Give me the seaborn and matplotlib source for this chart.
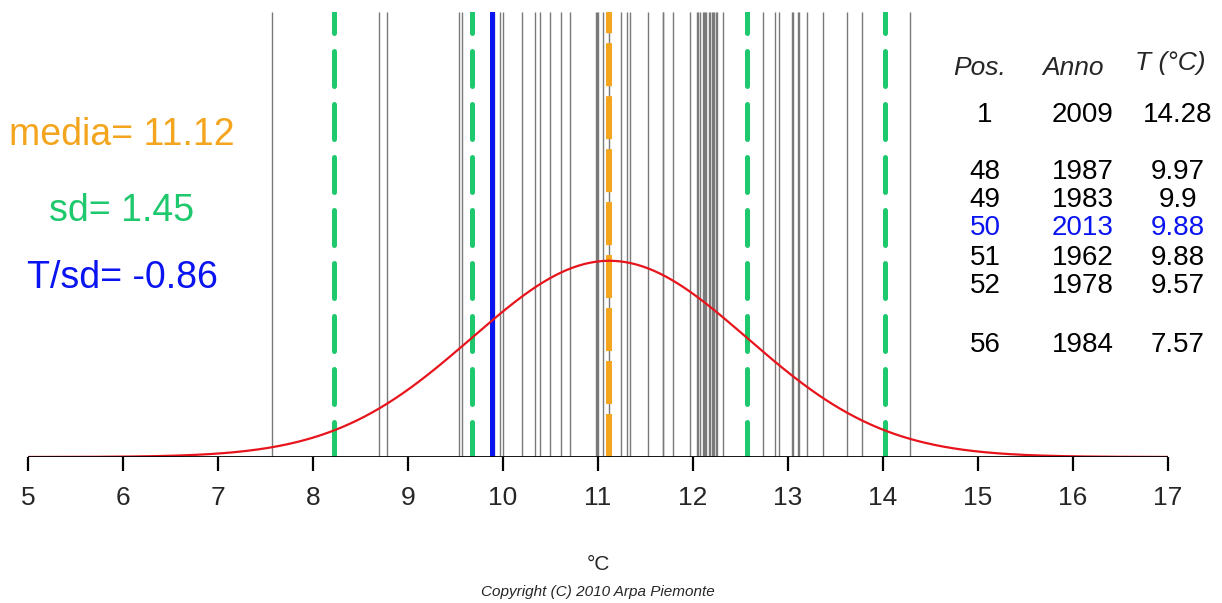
import numpy as np
import pandas as pd
import matplotlib
matplotlib.use("Agg")
import matplotlib.pyplot as plt
import seaborn as sns

# ---- data ----
temps = [7.57, 8.69, 8.78, 9.54, 9.57, 9.88, 9.88, 9.90, 9.97, 10.00,
         10.20, 10.34, 10.39, 10.49, 10.61, 10.70,
         10.98, 10.99, 11.00, 11.05, 11.12, 11.24, 11.30, 11.34,
         11.53, 11.68, 11.68, 11.79,
         11.97, 12.04, 12.05, 12.07, 12.10, 12.12, 12.13, 12.14, 12.17, 12.18,
         12.20, 12.21, 12.22, 12.24, 12.25, 12.32,
         12.74, 12.86, 12.90, 13.04, 13.05, 13.10, 13.12, 13.20, 13.37,
         13.62, 13.78, 14.28]
mean_t = 11.12
sd_t = 1.45
t_2013 = 9.88
sd_lines = [8.22, 9.67, 12.57, 14.02]
xticks = list(range(5, 18))

stat_labels = ["media= 11.12", "sd= 1.45", "T/sd= -0.86"]
tab_header = ["Pos.", "Anno", "T (°C)"]
tab_pos = ["1", "48", "49", "50", "51", "52", "56"]
tab_year = ["2009", "1987", "1983", "2013", "1962", "1978", "1984"]
tab_temp = ["14.28", "9.97", "9.9", "9.88", "9.88", "9.57", "7.57"]

# ---- style ----
sns.set_theme(style="white")
plt.rcParams['font.family'] = ['Liberation Sans', 'DejaVu Sans']

GREEN = '#1ec86c'
ORANGE = '#f4a51e'
BLUE = '#0a14f0'
RED = '#e8141c'

fig = plt.figure(figsize=(12.22, 6.03), dpi=100)
ax = fig.add_axes([28/1222, 1-457/603, (1168-28)/1222, (457-12)/603])

# grey lines for every year
sns.rugplot(x=temps, height=1.0, ax=ax, color='#7a7a7a', lw=1.1, expand_margins=False)

# sd lines
for v in sd_lines:
    ax.axvline(v, color=GREEN, lw=3.6, ls=(0, (7.0, 3.6)), dash_capstyle='round', zorder=3)
# 2013 value
ax.axvline(t_2013, color=BLUE, lw=3.6, zorder=4)
# mean
ax.axvline(mean_t, color=ORANGE, lw=4.3, ls=(0, (7.2, 1.67)), zorder=4)

# normal curve
xs = np.linspace(5, 17, 600)
ys = np.exp(-0.5 * ((xs - mean_t) / sd_t) ** 2) / (sd_t * np.sqrt(2 * np.pi))
sns.lineplot(x=xs, y=ys, ax=ax, color=RED, lw=1.6, zorder=5)

# baseline axis
ax.axhline(0, color='black', lw=2, zorder=6)
ax.set_xlim(5, 17)
ax.set_ylim(0, 0.624)
ax.set_yticks([])
ax.set_xticks(xticks)
ax.set_xticklabels([str(t) for t in xticks], fontsize=19)
ax.tick_params(axis='x', direction='out', length=10, width=1.6, color='black', pad=11, bottom=True)
for s in ['top', 'right', 'left', 'bottom']:
    ax.spines[s].set_visible(False)
ax.patch.set_alpha(0)

# stats text
fig.text(122/1222, 1-135/603, stat_labels[0], color=ORANGE, fontsize=27, ha='center', va='center')
fig.text(122/1222, 1-211/603, stat_labels[1], color=GREEN, fontsize=27, ha='center', va='center')
fig.text(122/1222, 1-278/603, stat_labels[2], color=BLUE, fontsize=27, ha='center', va='center')

# table
fig.text(980/1222, 1-68/603, tab_header[0], fontsize=19, style='italic', ha='center', va='center')
fig.text(1073/1222, 1-68/603, tab_header[1], fontsize=19, style='italic', ha='center', va='center')
fig.text(1170/1222, 1-63/603, tab_header[2], fontsize=19, style='italic', ha='center', va='center')
row_y = [115, 172, 200, 228, 258, 286, 345]
for p, yr, t, yy in zip(tab_pos, tab_year, tab_temp, row_y):
    c = BLUE if yr == "2013" else 'black'
    fig.text(985/1222, 1-yy/603, p, fontsize=20, ha='center', va='center', color=c)
    fig.text(1083/1222, 1-yy/603, yr, fontsize=20, ha='center', va='center', color=c)
    fig.text(1178/1222, 1-yy/603, t, fontsize=20, ha='center', va='center', color=c)

fig.text(598/1222, 1-565/603, "°C", fontsize=15, ha='center', va='center')
fig.text(598/1222, 1-592/603, "Copyright (C) 2010 Arpa Piemonte", fontsize=11,
         style='italic', ha='center', va='center')

fig.savefig("out.png", dpi=100, facecolor='white')
